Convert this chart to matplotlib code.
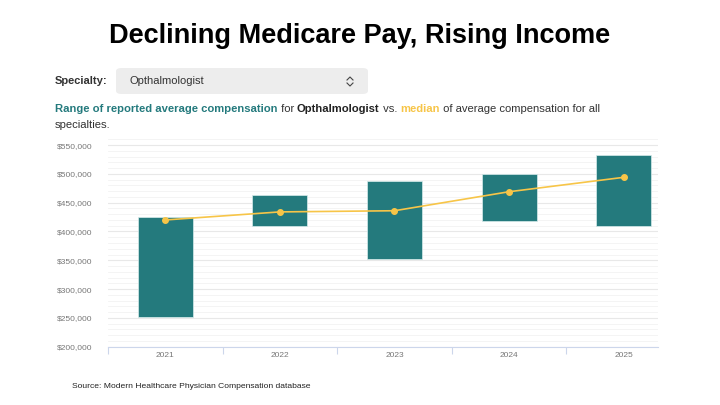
import matplotlib
matplotlib.use("Agg")
import matplotlib.pyplot as plt
from matplotlib.patches import FancyBboxPatch
from matplotlib.lines import Line2D
from matplotlib.ticker import MultipleLocator, FuncFormatter

plt.rcParams['font.family'] = ['Liberation Sans', 'DejaVu Sans']

# data
years = ['2021', '2022', '2023', '2024', '2025']
range_low = [252000, 410000, 352000, 419000, 410000]
range_high = [426000, 464000, 487000, 499000, 533000]
median_all = [420000, 434000, 436000, 469000, 494000]

teal = '#247a7d'
gold = '#f7c548'
W, H = 720, 405

fig = plt.figure(figsize=(7.2, 4.05), dpi=100)
fig.patch.set_facecolor('white')

# title
fig.text(0.5, 1 - 36 / H, 'Declining Medicare Pay, Rising Income', ha='center', va='center',
         fontsize=19.5, fontweight='bold', color='black')

# dropdown
fig.text(55 / W, 1 - 81 / H, 'Specialty:', ha='left', va='center', fontsize=8, fontweight='bold', color='#333333')
box = FancyBboxPatch((116 / W, 1 - 94 / H), 252 / W, 26 / H, boxstyle='round,pad=0,rounding_size=0.008',
                     transform=fig.transFigure, facecolor='#ededed', edgecolor='none')
fig.patches.append(box)
fig.text(129 / W, 1 - 81 / H, 'Opthalmologist', ha='left', va='center', fontsize=8, color='#333333')
cx = 350
fig.lines.append(Line2D([(cx - 3) / W, cx / W, (cx + 3) / W], [1 - 80 / H, 1 - 77 / H, 1 - 80 / H],
                        transform=fig.transFigure, color='#444444', lw=0.8))
fig.lines.append(Line2D([(cx - 3) / W, cx / W, (cx + 3) / W], [1 - 83 / H, 1 - 86 / H, 1 - 83 / H],
                        transform=fig.transFigure, color='#444444', lw=0.8))

# subtitle with mixed styles
fig.canvas.draw()
renderer = fig.canvas.get_renderer()
parts = [('Range of reported average compensation', teal, 'bold'),
         (' for ', '#333333', 'normal'),
         ('Opthalmologist', '#222222', 'bold'),
         (' vs. ', '#333333', 'normal'),
         ('median', gold, 'bold'),
         (' of average compensation for all', '#333333', 'normal')]
x = 55
for s, c, w in parts:
    t = fig.text(x / W, 1 - 109 / H, s, ha='left', va='center', fontsize=8.1, color=c, fontweight=w)
    x += t.get_window_extent(renderer).width
fig.text(55 / W, 1 - 125 / H, 'specialties.', ha='left', va='center', fontsize=8.1, color='#333333')

# chart
ax = fig.add_axes([108 / W, 0.144, 550 / W, 0.512])
pos = list(range(len(years)))
heights = [h - l for l, h in zip(range_low, range_high)]
ax.bar(pos, heights, bottom=range_low, width=0.48, color=teal, edgecolor='#d8ecec', linewidth=0.5, zorder=3)
ax.plot(pos, median_all, color=gold, lw=1.2, marker='o', markersize=4, zorder=4)

ax.set_ylim(200000, 560000)
ax.set_xlim(-0.5, 4.3)
ax.yaxis.set_major_locator(MultipleLocator(50000))
ax.yaxis.set_minor_locator(MultipleLocator(10000))
ax.yaxis.set_major_formatter(FuncFormatter(lambda v, p: f'${v:,.0f}'))
ax.grid(axis='y', which='major', color='#e8e8e8', lw=0.8, zorder=0)
ax.grid(axis='y', which='minor', color='#f3f3f3', lw=0.6, zorder=0)
ax.tick_params(axis='y', which='both', length=0, labelsize=6, colors='#777777', pad=11)
ax.set_xticks(pos)
ax.set_xticklabels(years)
ax.set_xticks([p - 0.5 for p in pos], minor=True)
ax.tick_params(axis='x', which='major', length=0, labelsize=6, colors='#777777', pad=4)
ax.tick_params(axis='x', which='minor', length=5, color='#ccd6eb', width=0.8)
for s in ['top', 'right', 'left']:
    ax.spines[s].set_visible(False)
ax.spines['bottom'].set_color('#ccd6eb')
ax.spines['bottom'].set_linewidth(0.8)

# source
fig.text(72 / W, 1 - 386 / H, 'Source: Modern Healthcare Physician Compensation database', ha='left',
         va='center', fontsize=6.1, color='#222222')

fig.savefig('out.png', dpi=100)
